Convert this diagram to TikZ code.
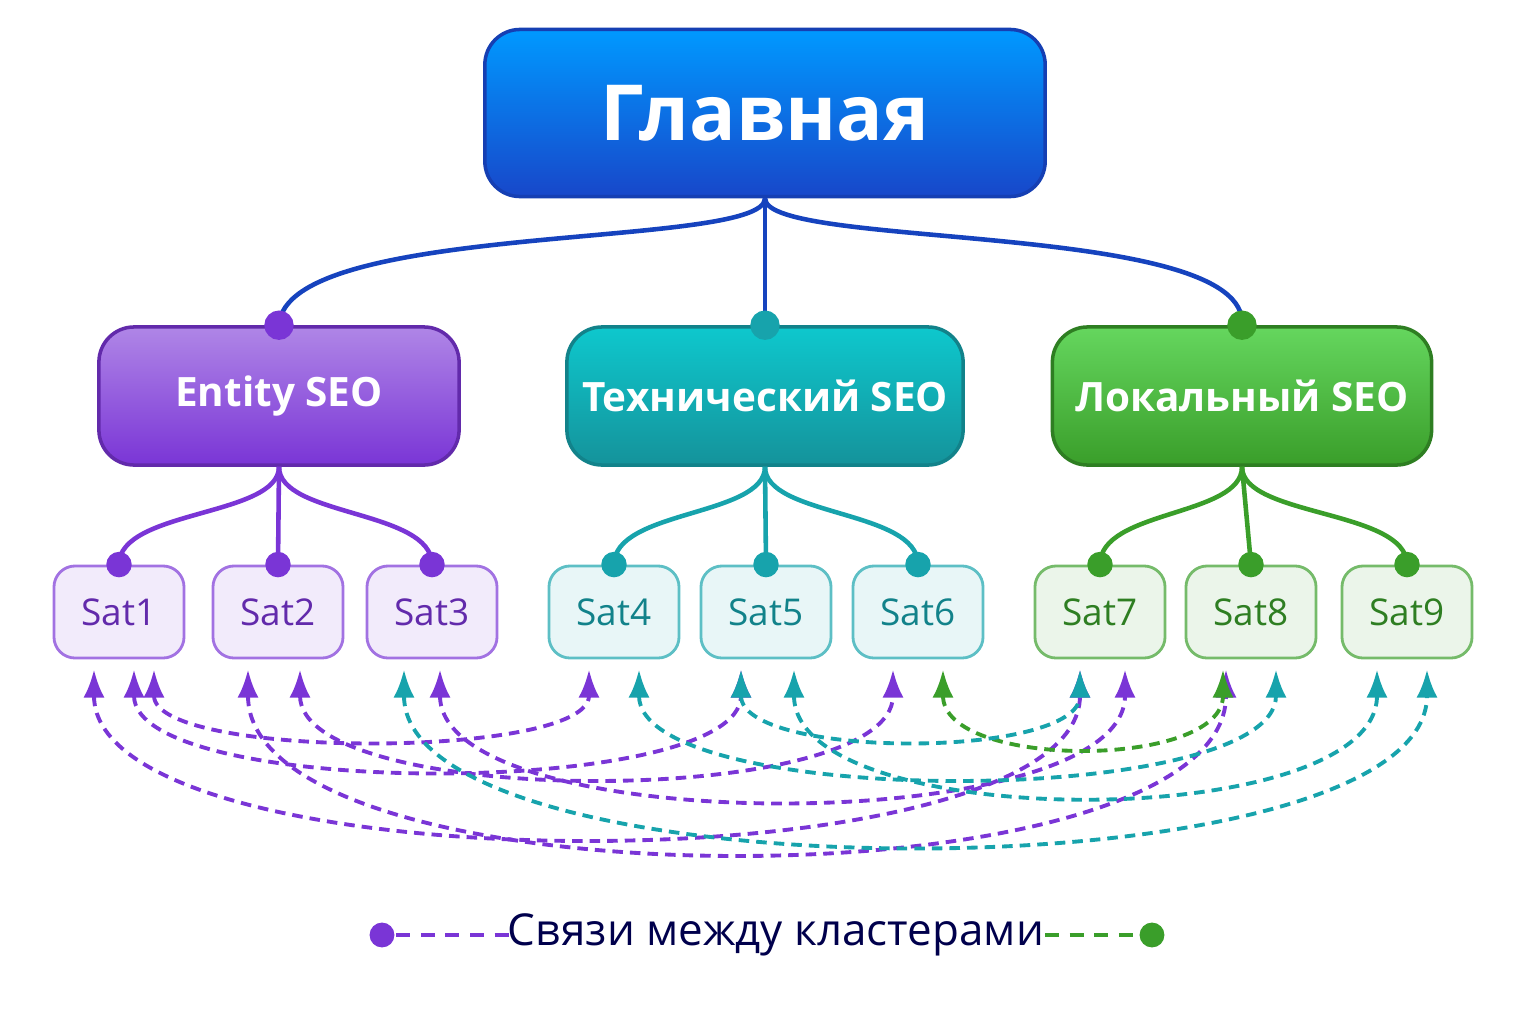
\documentclass[tikz,border=0pt]{standalone}
\usepackage{fontspec}
\setmainfont{Open Sans}
\usepackage{tikz}
\usetikzlibrary{arrows.meta}
\definecolor{ent}{HTML}{7A35D6}
\definecolor{tech}{HTML}{17A3AC}
\definecolor{loc}{HTML}{3A9E2A}
\definecolor{mainb}{HTML}{1A4FE0}

\begin{document}
\begin{tikzpicture}[x=0.01cm,y=-0.01cm]
    \tikzstyle{box}=[rounded corners=10pt,draw,line width=1pt,text=white,font=\bfseries]
    \tikzstyle{cluster}=[box,minimum width=3.6cm,minimum height=1.38cm,inner xsep=2pt,font=\bfseries\fontsize{11.5}{14}\selectfont]
    \tikzstyle{sat}=[rounded corners=6pt,draw,line width=0.8pt,minimum width=1.3cm,minimum height=0.92cm,font=\fontsize{10.5}{13}\selectfont]
    \tikzstyle{tree}=[line width=1.3pt]
    \tikzstyle{dot}=[circle,fill,draw=white,line width=1pt,inner sep=2.6pt]
    \tikzstyle{link}=[dash pattern=on 3pt off 2pt,line width=1.1pt,{Latex[length=8pt,width=6pt]}-{Latex[length=8pt,width=6pt]}]
    \useasboundingbox (0,0) rectangle (1536,1024);

    % Draw the main node
    \node[box,draw=mainb!80!black,top color=blue!40!cyan,bottom color=mainb!90!black,minimum width=5.6cm,minimum height=1.67cm,font=\bfseries\fontsize{22}{26}\selectfont] (M) at (765,113) {Главная};

    % Draw the cluster nodes
    \node[cluster,draw=ent!80!black,top color=ent!60,bottom color=ent] (E) at (279,396) {Entity SEO};
    \node[cluster,draw=tech!80!black,top color=tech!60!cyan,bottom color=tech!90!black,minimum width=3.96cm] (T) at (765,396) {Технический SEO};
    \node[cluster,draw=loc!80!black,top color=loc!60!green!70,bottom color=loc,minimum width=3.79cm] (L) at (1242,396) {Локальный SEO};

    % Draw the satellite nodes
    \foreach \name / \x / \c in {1/119/ent,2/278/ent,3/432/ent,4/614/tech,5/766/tech,6/918/tech,7/1100/loc,8/1251/loc,9/1407/loc}
        \node[sat,draw=\c!70,fill=\c!10,text=\c!80!black] (S-\name) at (\x,612) {Sat\name};

    % Connect the main node with the clusters
    \draw[tree,mainb!85!black] (M.south) .. controls (765,250) and (285,220) .. (E.north);
    \draw[tree,mainb!85!black] (M.south) -- (T.north);
    \draw[tree,mainb!85!black] (M.south) .. controls (765,250) and (1250,220) .. (L.north);
    \foreach \n / \c in {E/ent,T/tech,L/loc}
        \node[dot,\c] at (\n.north) {};

    % Connect every cluster with its satellites
    \foreach \n / \c / \a / \b / \d in {E/ent/1/2/3,T/tech/4/5/6,L/loc/7/8/9} {
        \draw[tree,\c] (\n.south) .. controls +(0,50) and +(0,-55) .. (S-\a.north);
        \draw[tree,\c] (\n.south) -- (S-\b.north);
        \draw[tree,\c] (\n.south) .. controls +(0,50) and +(0,-55) .. (S-\d.north);
        \foreach \s in {\a,\b,\d}
            \node[dot,\c,inner sep=2.2pt] at (S-\s.north) {};
    }

    % Links between the clusters
    \foreach \p / \q / \dp / \sx / \tx / \c in {
        1/4/90/35/-25/ent, 1/5/130/15/-25/ent, 1/7/220/-25/-20/ent,
        2/8/240/-30/-25/ent, 2/6/140/22/-25/ent, 3/9/230/-28/20/tech,
        3/7/170/8/25/ent, 4/8/140/25/25/tech, 5/9/165/28/-30/tech,
        6/8/100/25/-28/loc, 5/7/90/-25/-20/tech}
        \draw[link,\c] ([xshift=\sx*0.01cm,yshift=-0.1cm]S-\p.south) .. controls +(0,\dp) and +(0,\dp) .. ([xshift=\tx*0.01cm,yshift=-0.1cm]S-\q.south);

    % Legend
    \node[font=\fontsize{12.5}{15}\selectfont,text=blue!30!black] (leg) at (776,935) {Связи между кластерами};
    \node[dot,ent,draw=none,inner sep=2.5pt] (l1) at (382,935) {};
    \node[dot,loc,draw=none,inner sep=2.5pt] (l2) at (1152,935) {};
    \coordinate (l1e) at (512,935);
    \coordinate (l2e) at (1045,935);
    \draw[dash pattern=on 4pt off 3pt,ent,line width=1.2pt] (l1) -- (l1e);
    \draw[dash pattern=on 4pt off 3pt,loc,line width=1.2pt] (l2e) -- (l2);
\end{tikzpicture}
\end{document}
